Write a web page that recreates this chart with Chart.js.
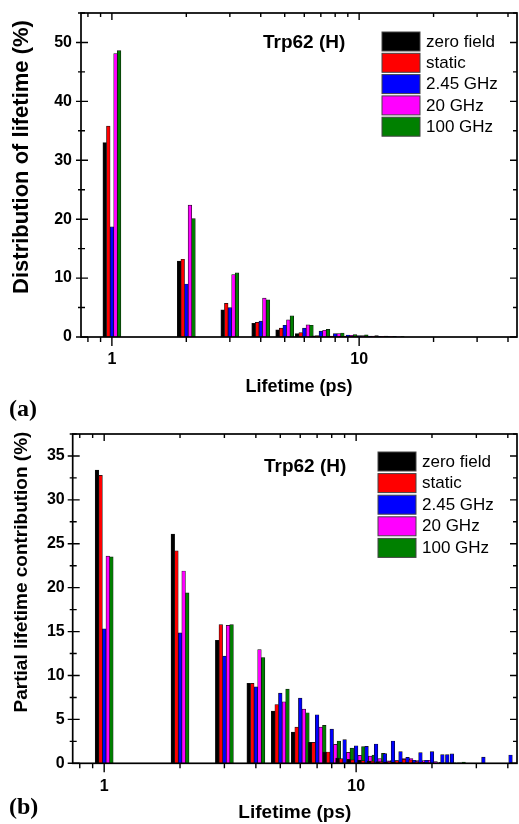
<!DOCTYPE html>
<html>
<head>
<meta charset="utf-8">
<script src="https://cdn.jsdelivr.net/npm/chart.js@4.4.1/dist/chart.umd.min.js"></script>
<style>
  html, body { margin: 0; padding: 0; background: #fff; }
  body { width: 519px; height: 824px; position: relative; overflow: hidden; }
  canvas { position: absolute; left: 0; }
</style>
</head>
<body>
<canvas id="chartA" width="519" height="424" style="top:0"></canvas>
<canvas id="chartB" width="519" height="400" style="top:424px"></canvas>
<script>
// series shared by both panels
const seriesNames = ['zero field', 'static', '2.45 GHz', '20 GHz', '100 GHz'];
const seriesColors = ['#000000', '#ff0000', '#0000ff', '#ff00ff', '#008000'];

// log axis tick positions (ps)
const xMajorTicks = [1, 10];
const xMinorTicks = [0.8, 0.9, 2, 3, 4, 5, 6, 7, 8, 9, 20, 30, 40];

// (a) distribution of lifetime (%)
const lifetimesA = [1, 2, 3, 4, 5, 6, 7, 8, 9, 10, 11, 12, 13, 14];
const distZeroField = [33.0, 12.9, 4.6, 2.3, 1.2, 0.56, 0.2, 0.12, 0.08, 0.06, 0.05, 0.04, 0.03, 0.03];
const distStatic    = [35.8, 13.2, 5.7, 2.5, 1.5, 0.75, 0.25, 0.15, 0.1, 0.07, 0.05, 0.04, 0.03, 0.03];
const dist245       = [18.7, 9.0, 5.0, 2.7, 2.0, 1.5, 1.0, 0.58, 0.34, 0.22, 0.15, 0.1, 0.08, 0.05];
const dist20        = [48.1, 22.4, 10.6, 6.6, 2.9, 2.05, 1.15, 0.56, 0.3, 0.25, 0.15, 0.1, 0.08, 0.05];
const dist100       = [48.6, 20.1, 10.9, 6.3, 3.6, 2.0, 1.3, 0.68, 0.4, 0.35, 0.22, 0.15, 0.1, 0.08];

// (b) partial lifetime contribution (%)
const lifetimesB = [1, 2, 3, 4, 5, 6, 7, 8, 9, 10, 11, 12, 13, 14, 15, 16, 17, 18, 19, 20,
  21, 22, 23, 24, 25, 26, 27, 28, 29, 30, 31, 32, 33, 34, 35, 36, 37, 38, 39, 40, 41];
const partZeroField = [33.4, 26.1, 14.0, 9.1, 5.95, 3.56, 2.39, 1.29, 0.6, 0.45,
  0.35, 0.25, 0.2, 0.15, 0.12, 0.1, 0.08, 0.06, 0.05, 0.04,
  null, null, null, null, null, null, null, null, null, null,
  null, null, null, null, null, null, null, null, null, null, null];
const partStatic = [32.8, 24.2, 15.8, 9.1, 6.7, 4.13, 2.39, 1.29, 0.53, 0.4,
  0.3, 0.25, 0.2, 0.2, 0.3, 0.45, 0.4, 0.2, 0.1, 0.05,
  null, null, null, null, null, null, null, null, null, null,
  null, null, null, null, null, null, null, null, null, null, null];
const part245 = [15.3, 14.85, 12.2, 8.7, 8.0, 7.42, 5.53, 3.9, 2.69, 2.0,
  1.93, 2.2, 1.1, 2.54, 1.33, 0.68, 0.35, 1.22, 0.35, 1.33,
  null, 1.0, 1.0, 1.08, null, null, null, null, null, null,
  null, 0.7, null, null, null, null, null, null, null, null, 0.95];
const part20 = [23.6, 21.9, 15.7, 12.95, 7.0, 6.17, 4.13, 2.16, 1.25, 0.9,
  0.83, 0.53, 0.27, 0.3, 0.55, 0.55, 0.3, 0.3, 0.35, 0.2,
  0.1, null, null, null, null, null, null, null, null, null,
  null, null, null, null, null, null, null, null, null, null, null];
const part100 = [23.5, 19.4, 15.8, 12.05, 8.45, 5.76, 4.32, 2.54, 1.74, 1.9,
  0.95, 1.14, 0.3, 0.25, 0.2, 0.15, 0.1, 0.1, 0.05, 0.05,
  0.05, 0.05, 0.05, 0.05, 0.15, null, null, null, null, null,
  null, null, null, null, null, null, null, null, null, null, null];

const SANS = '"Liberation Sans", Arial, sans-serif';

function makeDatasets(lifetimes, values) {
  return values.map((vals, i) => ({
    label: seriesNames[i],
    data: lifetimes.map((t, k) => ({ x: t, y: vals[k] })),
    backgroundColor: seriesColors[i],
    borderColor: '#111',
    borderWidth: 0.7,
    barThickness: 3.6
  }));
}

// fixed axis box sizes, no extra edge padding from tick labels
function fixBox(size, horizontal) {
  return s => {
    if (horizontal) s.height = size; else s.width = size;
    s.paddingLeft = s.paddingRight = s.paddingTop = s.paddingBottom = 0;
  };
}

// frame, inward/outward ticks, titles and legend box
const framePlugin = {
  id: 'frame',
  afterDraw(chart, args, opts) {
    const { ctx, chartArea: a, scales: { x, y } } = chart;
    ctx.save();
    ctx.strokeStyle = '#000';
    ctx.lineWidth = 1.4;
    ctx.beginPath();
    xMajorTicks.concat(xMinorTicks).forEach(v => {
      const px = x.getPixelForValue(v);
      const major = xMajorTicks.includes(v);
      ctx.moveTo(px, a.bottom); ctx.lineTo(px, a.bottom + (major ? 9 : 5));
      ctx.moveTo(px, a.top); ctx.lineTo(px, a.top + (major ? 7 : 4));
    });
    for (let v = 0; v <= y.max + 1e-9; v += opts.minorStep) {
      const py = y.getPixelForValue(v);
      const major = Math.abs(v / opts.majorStep - Math.round(v / opts.majorStep)) < 1e-6;
      ctx.moveTo(a.left - (major ? 5 : 3), py); ctx.lineTo(a.left + (major ? 7 : 4), py);
      ctx.moveTo(a.right, py); ctx.lineTo(a.right - (major ? 7 : 4), py);
    }
    ctx.stroke();
    ctx.lineWidth = 1.7;
    ctx.strokeRect(a.left, a.top, a.right - a.left, a.bottom - a.top);

    ctx.fillStyle = '#000';
    ctx.textBaseline = 'middle';
    ctx.textAlign = 'center';
    ctx.font = 'bold ' + opts.xTitleSize + 'px ' + SANS;
    ctx.fillText('Lifetime (ps)', (a.left + a.right) / 2, opts.xTitleY);

    ctx.save();
    ctx.translate(opts.yTitleX, opts.yTitleY);
    ctx.rotate(-Math.PI / 2);
    ctx.font = 'bold ' + opts.yTitleSize + 'px ' + SANS;
    ctx.fillText(opts.yTitle, 0, 0);
    ctx.restore();

    ctx.textAlign = 'left';
    ctx.font = 'bold 24px "Liberation Serif", "Times New Roman", serif';
    ctx.fillText(opts.tag, 9, opts.tagY);

    ctx.font = 'bold 19px ' + SANS;
    ctx.fillText('Trp62 (H)', opts.nameX, opts.nameY);

    // legend
    ctx.font = '17px ' + SANS;
    ctx.lineWidth = 1;
    ctx.strokeStyle = '#444';
    chart.data.datasets.forEach((ds, i) => {
      const top = opts.legendY + i * opts.legendStep;
      ctx.fillStyle = ds.backgroundColor;
      ctx.fillRect(opts.legendX, top, 38, 19);
      ctx.strokeRect(opts.legendX, top, 38, 19);
      ctx.fillStyle = '#000';
      ctx.fillText(ds.label, opts.legendX + 44, top + 10);
    });
    ctx.restore();
  }
};

function buildChart(canvas, lifetimes, values, yMax, yStep, axisHeight, axisWidth, padTop, xPad, yPad, frame) {
  return new Chart(canvas, {
    type: 'bar',
    data: { datasets: makeDatasets(lifetimes, values) },
    options: {
      responsive: false,
      animation: false,
      events: [],
      layout: { autoPadding: false, padding: { top: padTop, right: 2, left: 0, bottom: 0 } },
      plugins: { legend: { display: false }, tooltip: { enabled: false }, frame: frame },
      scales: {
        x: {
          type: 'logarithmic',
          min: 0.75,
          max: 43.5,
          offset: false,
          grid: { display: false, drawTicks: false },
          border: { display: false },
          afterFit: fixBox(axisHeight, true),
          ticks: {
            autoSkip: false,
            maxRotation: 0,
            padding: xPad,
            color: '#000',
            font: { family: SANS, size: 16, weight: 'bold' },
            callback: v => (v === 1 || v === 10) ? String(v) : ''
          }
        },
        y: {
          min: 0,
          max: yMax,
          grid: { display: false, drawTicks: false },
          border: { display: false },
          afterFit: fixBox(axisWidth, false),
          ticks: {
            stepSize: yStep,
            padding: yPad,
            color: '#000',
            font: { family: SANS, size: 16, weight: 'bold' },
            callback: v => (Math.abs(v % yStep) < 1e-9) ? String(v) : ''
          }
        }
      }
    },
    plugins: [framePlugin]
  });
}

buildChart(document.getElementById('chartA'), lifetimesA,
  [distZeroField, distStatic, dist245, dist20, dist100],
  55, 10, 87, 81, 13, 13, 9, {
    minorStep: 5, majorStep: 10,
    xTitleY: 387, xTitleSize: 18,
    yTitle: 'Distribution of lifetime (%)', yTitleX: 22, yTitleY: 157, yTitleSize: 22,
    tag: '(a)', tagY: 410,
    nameX: 263, nameY: 43,
    legendX: 382, legendY: 32, legendStep: 21.3
  });

buildChart(document.getElementById('chartB'), lifetimesB,
  [partZeroField, partStatic, part245, part20, part100],
  37.5, 5, 60.7, 72.7, 10, 14, 8, {
    minorStep: 2.5, majorStep: 5,
    xTitleY: 389, xTitleSize: 19,
    yTitle: 'Partial lifetime contribution (%)', yTitleX: 22, yTitleY: 148, yTitleSize: 19,
    tag: '(b)', tagY: 384,
    nameX: 264, nameY: 43,
    legendX: 378, legendY: 28, legendStep: 21.6
  });
</script>
</body>
</html>
